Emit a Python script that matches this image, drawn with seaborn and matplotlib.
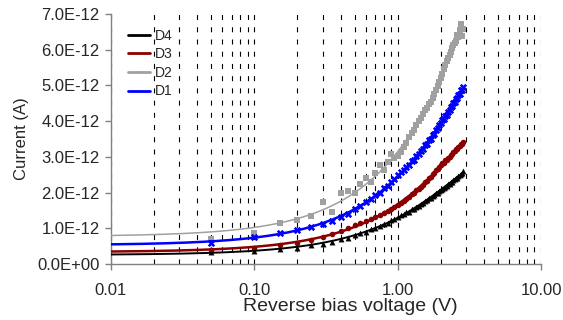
import numpy as np
import pandas as pd
import matplotlib
matplotlib.use("Agg")
from matplotlib import pyplot as plt
from matplotlib.lines import Line2D
from matplotlib.ticker import FuncFormatter, LogLocator, FixedLocator
import seaborn as sns

# reverse bias voltage (V)
voltage = [0.05, 0.10, 0.15, 0.20, 0.25, 0.30, 0.35, 0.40, 0.45, 0.50,
           0.55, 0.60, 0.65, 0.70, 0.75, 0.80, 0.85, 0.90, 0.95, 1.00,
           1.05, 1.10, 1.15, 1.20, 1.25, 1.30, 1.35, 1.40, 1.45, 1.50,
           1.55, 1.60, 1.65, 1.70, 1.75, 1.80, 1.85, 1.90, 1.95, 2.00,
           2.05, 2.10, 2.15, 2.20, 2.25, 2.30, 2.35, 2.40, 2.45, 2.50,
           2.55, 2.60, 2.65, 2.70, 2.75, 2.80, 2.85]

# currents in units of 1E-12 A
d4 = [0.34, 0.37, 0.42, 0.46, 0.52, 0.55, 0.62, 0.70, 0.74, 0.81,
      0.87, 0.91, 0.98, 1.02, 1.06, 1.13, 1.16, 1.23, 1.26, 1.32,
      1.37, 1.39, 1.45, 1.47, 1.53, 1.55, 1.61, 1.63, 1.69, 1.71,
      1.77, 1.78, 1.84, 1.86, 1.91, 1.92, 1.98, 2.00, 2.05, 2.07,
      2.11, 2.12, 2.17, 2.19, 2.23, 2.25, 2.29, 2.31, 2.35, 2.37,
      2.41, 2.42, 2.47, 2.48, 2.52, 2.54, 2.60]
d3 = [0.40, 0.45, 0.52, 0.60, 0.68, 0.77, 0.85, 0.92, 1.02, 1.08,
      1.16, 1.20, 1.27, 1.31, 1.38, 1.42, 1.49, 1.53, 1.60, 1.65,
      1.72, 1.76, 1.83, 1.87, 1.95, 1.98, 2.06, 2.10, 2.17, 2.21,
      2.29, 2.32, 2.40, 2.43, 2.51, 2.54, 2.62, 2.65, 2.73, 2.76,
      2.82, 2.84, 2.90, 2.92, 2.98, 3.00, 3.06, 3.08, 3.14, 3.16,
      3.21, 3.23, 3.28, 3.30, 3.35, 3.36, 3.43]
d2 = [0.70, 0.88, 1.15, 1.22, 1.34, 1.74, 1.47, 1.98, 2.05, 1.98,
      2.23, 2.40, 2.31, 2.55, 2.77, 2.63, 2.85, 3.08, 2.96, 3.02,
      3.15, 3.27, 3.40, 3.55, 3.66, 3.76, 3.88, 4.00, 4.10, 4.20,
      4.30, 4.38, 4.47, 4.55, 4.64, 4.75, 4.86, 4.98, 5.10, 5.22,
      5.33, 5.45, 5.56, 5.68, 5.77, 5.86, 5.94, 6.04, 6.12, 6.20,
      6.25, 6.42, 6.35, 6.55, 6.72, 6.40, 6.58]
d1 = [0.58, 0.76, 0.86, 0.96, 1.03, 1.13, 1.20, 1.32, 1.41, 1.55,
      1.62, 1.74, 1.81, 1.93, 1.99, 2.12, 2.19, 2.31, 2.38, 2.49,
      2.57, 2.63, 2.73, 2.77, 2.88, 2.92, 3.02, 3.07, 3.17, 3.22,
      3.32, 3.36, 3.47, 3.51, 3.61, 3.65, 3.76, 3.80, 3.90, 3.94,
      4.03, 4.06, 4.15, 4.18, 4.27, 4.30, 4.39, 4.42, 4.51, 4.54,
      4.63, 4.65, 4.74, 4.77, 4.86, 4.88, 4.97]
scale = 1e-12

series = ["D4", "D3", "D2", "D1"]
values = {"D4": d4, "D3": d3, "D2": d2, "D1": d1}
colors = {"D4": "#000000", "D3": "#8b0000", "D2": "#a0a0a0", "D1": "#0000ff"}
markers = {"D4": "^", "D3": "o", "D2": "s", "D1": "X"}
sizes = {"D4": 18, "D3": 16, "D2": 24, "D1": 28}
widths = {"D4": 1.4, "D3": 1.8, "D2": 1.1, "D1": 1.8}

sns.set_style("ticks")
plt.rcParams["font.family"] = ["Liberation Sans", "DejaVu Sans"]

fig = plt.figure(figsize=(5.63, 3.2), dpi=100)
ax = fig.add_axes([0.197, 0.175, 0.764, 0.781])

# dashed vertical grid at every 1..9 multiple
ax.set_xscale("log")
ax.set_xlim(0.01, 10)
ax.set_ylim(0, 7e-12)
ax.xaxis.set_major_locator(FixedLocator([0.01, 0.1, 1, 10]))
ax.xaxis.set_minor_locator(LogLocator(base=10, subs=np.arange(2, 10)))
ax.grid(True, axis="x", which="both", color="black", lw=0.8,
        linestyle=(0, (4.5, 6.5)))
ax.tick_params(axis="x", which="minor", length=0)

for name in series:
    df = pd.DataFrame({"V": voltage, "I": np.array(values[name]) * scale})
    sns.scatterplot(data=df, x="V", y="I", ax=ax, color=colors[name],
                    marker=markers[name], s=sizes[name], linewidth=0,
                    zorder=3, legend=False)
for name in series:
    coef = np.polyfit(voltage, values[name], 2)
    vfit = np.geomspace(0.01, voltage[-1], 300)
    fit = pd.DataFrame({"V": vfit, "I": np.polyval(coef, vfit) * scale})
    sns.lineplot(data=fit, x="V", y="I", ax=ax, color=colors[name],
                 lw=widths[name], zorder=4, legend=False)

ax.yaxis.set_major_locator(FixedLocator(np.arange(0, 8) * 1e-12))
ax.yaxis.set_major_formatter(FuncFormatter(lambda v, p: f"{v:.1E}"))
ax.xaxis.set_major_formatter(FuncFormatter(lambda v, p: f"{v:.2f}"))
ax.tick_params(axis="both", which="major", labelsize=12, length=4,
               width=1, color="#808080")
ax.tick_params(axis="y", pad=4)
ax.tick_params(axis="x", pad=10)
ax.set_xlabel("Reverse bias voltage (V)", fontsize=14, labelpad=3)
ax.xaxis.set_label_coords(0.556, -0.138)
ax.set_ylabel("Current (A)", fontsize=12, labelpad=6)
for side in ["top", "right"]:
    ax.spines[side].set_visible(False)
for side in ["left", "bottom"]:
    ax.spines[side].set_color("#808080")
    ax.spines[side].set_linewidth(1)

handles = [Line2D([], [], color=colors[n], lw=2) for n in series]
ax.legend(handles, series, loc="upper left", bbox_to_anchor=(0.02, 0.975),
          frameon=False, fontsize=10, handlelength=1.6, handletextpad=0.35,
          labelspacing=0.33, borderaxespad=0.2)

fig.savefig("out.png", dpi=100)
